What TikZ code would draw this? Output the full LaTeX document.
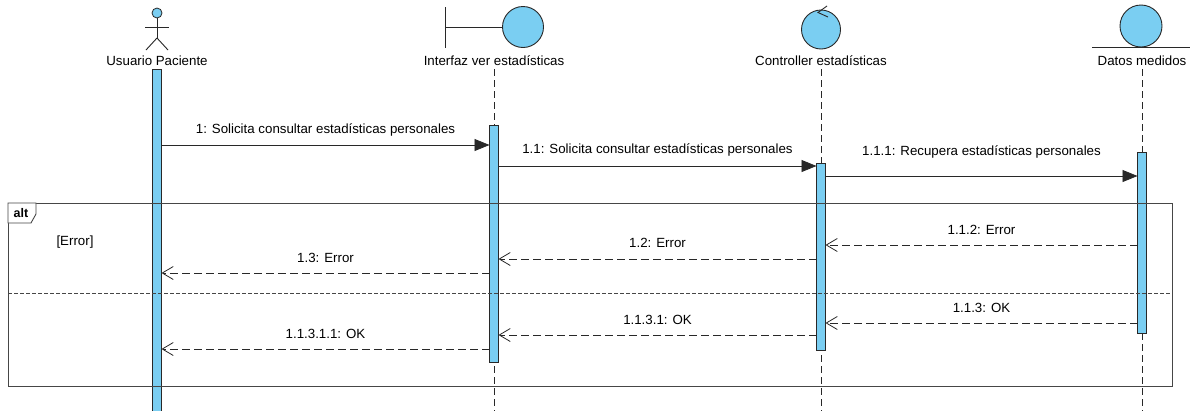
\documentclass[tikz,border=0pt]{standalone}
\usepackage{fontspec}
\setmainfont{Liberation Sans}
\usetikzlibrary{arrows.meta}
\definecolor{barblue}{RGB}{122,206,242}
\definecolor{ln}{RGB}{40,40,40}
\definecolor{frameln}{RGB}{70,70,70}
\begin{document}
\begin{tikzpicture}[x=1pt,y=-1pt,
  font=\fontsize{13.3}{15}\selectfont,
  actbar/.style={draw=ln, fill=barblue, line width=0.8pt, inner sep=0pt, outer sep=0pt, minimum width=9pt, anchor=north},
  icon/.style={draw=ln, fill=barblue, line width=0.9pt, circle, inner sep=0pt, outer sep=0pt},
  iconln/.style={draw=ln, line width=0.9pt},
  lifeline/.style={draw=ln, line width=0.7pt, dash pattern=on 7pt off 4pt},
  sync/.style={draw=ln, line width=0.8pt, -{Triangle[length=15pt,width=12pt]}},
  ret/.style={draw=ln, line width=0.8pt, dash pattern=on 8pt off 4pt, -{Straight Barb[length=11pt,width=13pt,line width=0.8pt]}},
  lbl/.style={midway, yshift=15pt, inner sep=1pt},
  llname/.style={inner sep=1pt},
  framestyle/.style={draw=frameln, line width=0.9pt}
]
\useasboundingbox (0,0) rectangle (1190,410);
\fill[white] (0,0) rectangle (1190,410);

% ---- lifeline heads ----
% Usuario Paciente (actor)
\node[draw=ln, fill=barblue, line width=0.8pt, circle, minimum size=10pt, inner sep=0pt] (head) at (157,13) {};
\draw[iconln] (head.south) -- (157,38) coordinate (hip);
\draw[iconln] (145,27) -- (169,27);
\draw[iconln] (hip) -- (146,50);
\draw[iconln] (hip) -- (168,50);
\node[llname] (nA) at (157,61) {Usuario Paciente};

% Interfaz (boundary)
\node[icon, minimum size=41pt] (cB) at (523,27) {};
\draw[iconln] (445,7) -- (445,48);
\draw[iconln] (445,27) -- (cB.west);
\node[llname] (nB) at (494,61) {Interfaz ver estad\'isticas};

% Controller
\node[icon, minimum size=39pt] (cC) at (821,29.5) {};
\draw[iconln] (827,6) -- (818,12.5) -- (828,17);
\node[llname] (nC) at (821,61) {Controller estad\'isticas};

% Datos medidos (entity)
\node[icon, minimum size=42pt] (cD) at (1141,26) {};
\draw[iconln] (1092,47) -- (1190,47);
\node[llname] (nD) at (1142,61) {Datos medidos};

% ---- lifelines ----
\draw[lifeline] (494,69) -- (494,412);
\draw[lifeline] (821,69) -- (821,412);
\draw[lifeline] (1142,69) -- (1142,412);

% ---- activation bars ----
\node[actbar, minimum height=350pt] (barA) at (157,69) {};
\node[actbar, minimum height=237pt] (barB) at (494,125) {};
\node[actbar, minimum height=187pt] (barC) at (821,163) {};
\node[actbar, minimum height=181pt] (barD) at (1142,152) {};

% ---- alt fragment ----
\draw[framestyle] (8,203) rectangle (1172,386);
\draw[framestyle, fill=white] (8,203) -- (36,203) -- (36,214) -- (31,223) -- (8,223) -- cycle;
\node[font=\fontsize{12.5}{14}\selectfont\bfseries, inner sep=0pt] (altlbl) at (21,213) {alt};
\node[inner sep=0pt] (guard) at (75,242) {[Error]};
\draw[draw=frameln, line width=0.7pt, dash pattern=on 4pt off 2pt] (8,293) -- (1172,293);

% ---- messages ----
\draw[sync] (barA.east |- 0,145) -- (barB.west |- 0,145)
  node[lbl] {1: Solicita consultar estad\'isticas personales};
\draw[sync] (barB.east |- 0,166) -- (barC.west |- 0,166)
  node[lbl, yshift=1pt] {1.1: Solicita consultar estad\'isticas personales};
\draw[sync] (barC.east |- 0,176) -- (barD.west |- 0,176)
  node[lbl, yshift=9pt] {1.1.1: Recupera estad\'isticas personales};

\draw[ret] (barD.west |- 0,245) -- (barC.east |- 0,245)
  node[lbl] {1.1.2: Error};
\draw[ret] (barC.west |- 0,259) -- (barB.east |- 0,259)
  node[lbl, yshift=1pt] {1.2: Error};
\draw[ret] (barB.west |- 0,273) -- (barA.east |- 0,273)
  node[lbl] {1.3: Error};

\draw[ret] (barD.west |- 0,323) -- (barC.east |- 0,323)
  node[lbl] {1.1.3: OK};
\draw[ret] (barC.west |- 0,335) -- (barB.east |- 0,335)
  node[lbl] {1.1.3.1: OK};
\draw[ret] (barB.west |- 0,349) -- (barA.east |- 0,349)
  node[lbl] {1.1.3.1.1: OK};
\end{tikzpicture}
\end{document}
